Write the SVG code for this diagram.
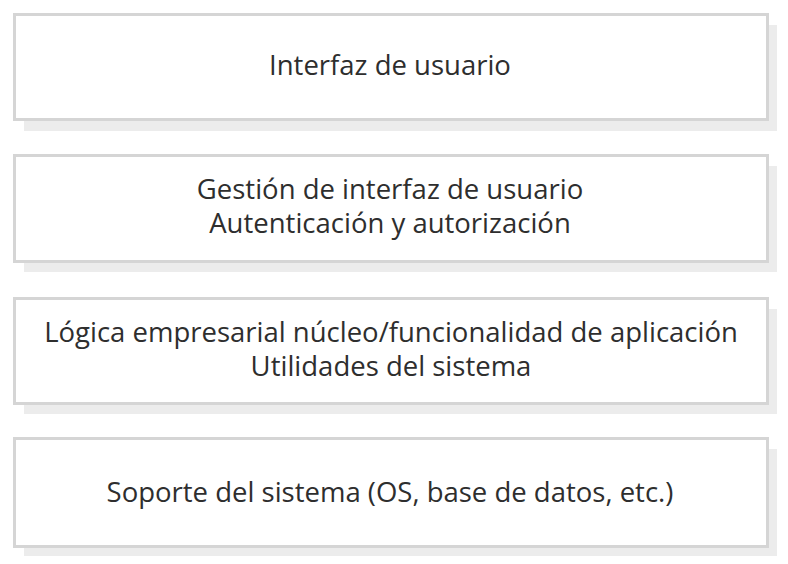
<svg xmlns="http://www.w3.org/2000/svg" width="788" height="564" viewBox="0 0 788 564">
<style>
.shadow{fill:#ececec;stroke:none}
.box{fill:#ffffff;stroke:#d5d5d5;stroke-width:3}
.t{font-family:"Open Sans","Liberation Sans",sans-serif;font-size:27.5px;fill:#2e2e2e;text-anchor:middle}
</style>
<rect width="788" height="564" fill="#ffffff"/>
<g id="layer1">
<rect class="shadow" x="24" y="25" width="753" height="106"/>
<rect class="box" x="14.5" y="14.5" width="753" height="105"/>
<text class="t" x="390" y="75">Interfaz de usuario</text>
</g>
<g id="layer2">
<rect class="shadow" x="24" y="166" width="753" height="106"/>
<rect class="box" x="14.5" y="155.5" width="753" height="106"/>
<text class="t" x="390" y="199">Gestión de interfaz de usuario</text>
<text class="t" x="390" y="233">Autenticación y autorización</text>
</g>
<g id="layer3">
<rect class="shadow" x="24" y="309" width="753" height="105"/>
<rect class="box" x="14.5" y="298.5" width="753" height="105"/>
<text class="t" x="391" y="342">Lógica empresarial núcleo/funcionalidad de aplicación</text>
<text class="t" x="391" y="376">Utilidades del sistema</text>
</g>
<g id="layer4">
<rect class="shadow" x="24" y="449" width="753" height="107"/>
<rect class="box" x="14.5" y="438.5" width="753" height="108"/>
<text class="t" x="390" y="502">Soporte del sistema (OS, base de datos, etc.)</text>
</g>
<g id="connectors"/>
</svg>
